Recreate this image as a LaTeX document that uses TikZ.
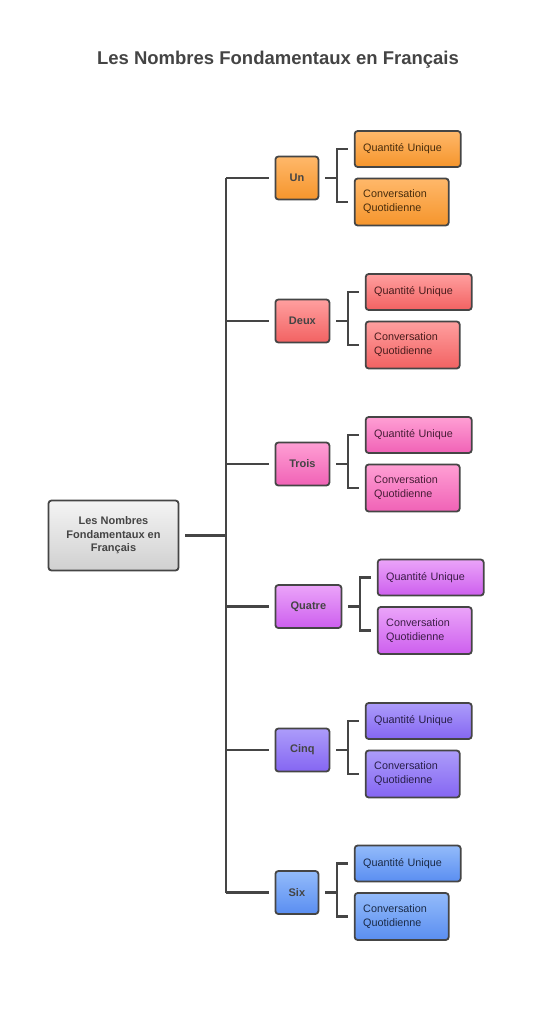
\documentclass[tikz,border=0pt]{standalone}
\usepackage{fontspec}
\setmainfont{Liberation Sans}
\usepackage{tikz}
\usetikzlibrary{positioning,calc}

\definecolor{linec}{HTML}{454545}
\definecolor{titlec}{HTML}{444444}
\definecolor{rootA}{HTML}{F4F4F4}\definecolor{rootB}{HTML}{D0D0D0}
\definecolor{unA}{HTML}{FFB86A}\definecolor{unB}{HTML}{F5952C}
\definecolor{deuxA}{HTML}{FF9F9F}\definecolor{deuxB}{HTML}{F26262}
\definecolor{troisA}{HTML}{FF9FD4}\definecolor{troisB}{HTML}{F062B6}
\definecolor{quatreA}{HTML}{EBA4F9}\definecolor{quatreB}{HTML}{CD5FEE}
\definecolor{cinqA}{HTML}{AC9CFA}\definecolor{cinqB}{HTML}{8566F2}
\definecolor{sixA}{HTML}{93BBFA}\definecolor{sixB}{HTML}{5A8EF1}

\begin{document}
\begin{tikzpicture}[x=1pt,y=-1pt,
  box/.style={draw=linec,line width=1.8pt,rounded corners=3pt,inner sep=0pt,
    minimum height=43pt,text=titlec,font=\bfseries\fontsize{11}{13.5}\selectfont},
  leaf/.style={draw=linec,line width=1.8pt,rounded corners=3pt,inner xsep=8.5pt,
    inner ysep=0pt,align=left,font=\fontsize{10.8}{14}\selectfont},
  link/.style={draw=linec,line width=2.2pt}]
\useasboundingbox (0,0) rectangle (556,1024);

\node[text=titlec,font=\bfseries\fontsize{18.5}{22}\selectfont] (title) at (278,60)
  {Les Nombres Fondamentaux en Français};

\node[box,top color=rootA,bottom color=rootB,minimum width=130pt,minimum height=70pt,
  align=center] (root) at (113.5,535.5) {Les Nombres\\Fondamentaux en\\Français};
\coordinate (spine) at (226,535.5);

\foreach \nom/\lab/\y/\w/\col in {un/Un/178/43/un,deux/Deux/321/54/deux,
    trois/Trois/464/54/trois,quatre/Quatre/606.5/66/quatre,
    cinq/Cinq/750/54/cinq,six/Six/892.5/43/six}{
  \node[box,anchor=west,minimum width=\w pt,top color=\col A,bottom color=\col B]
    (\nom) at (274.5,\y) {\lab};
  \node[leaf,right=34.5pt of \nom,yshift=29pt,text width=89pt,minimum height=36pt,
    top color=\col A,bottom color=\col B,text=\col B!30!black] (\nom-q) {Quantité Unique};
  \node[leaf,right=34.5pt of \nom,yshift=-24pt,text width=77pt,minimum height=47pt,
    top color=\col A,bottom color=\col B,text=\col B!30!black] (\nom-c)
    {Conversation\\Quotidienne};
  \draw[link] ([xshift=6pt]\nom.east) -- ++(12pt,0) coordinate (\nom-b);
  \draw[link] ([xshift=-6pt]\nom-q.west) -| (\nom-b) |- ([xshift=-6pt]\nom-c.west);
  \draw[link] (spine |- \nom.west) -- ([xshift=-6pt]\nom.west);
}

\draw[link] ([xshift=6pt]root.east) -- (spine);
\draw[link] (spine |- un.west) -- (spine |- six.west);
\end{tikzpicture}
\end{document}
